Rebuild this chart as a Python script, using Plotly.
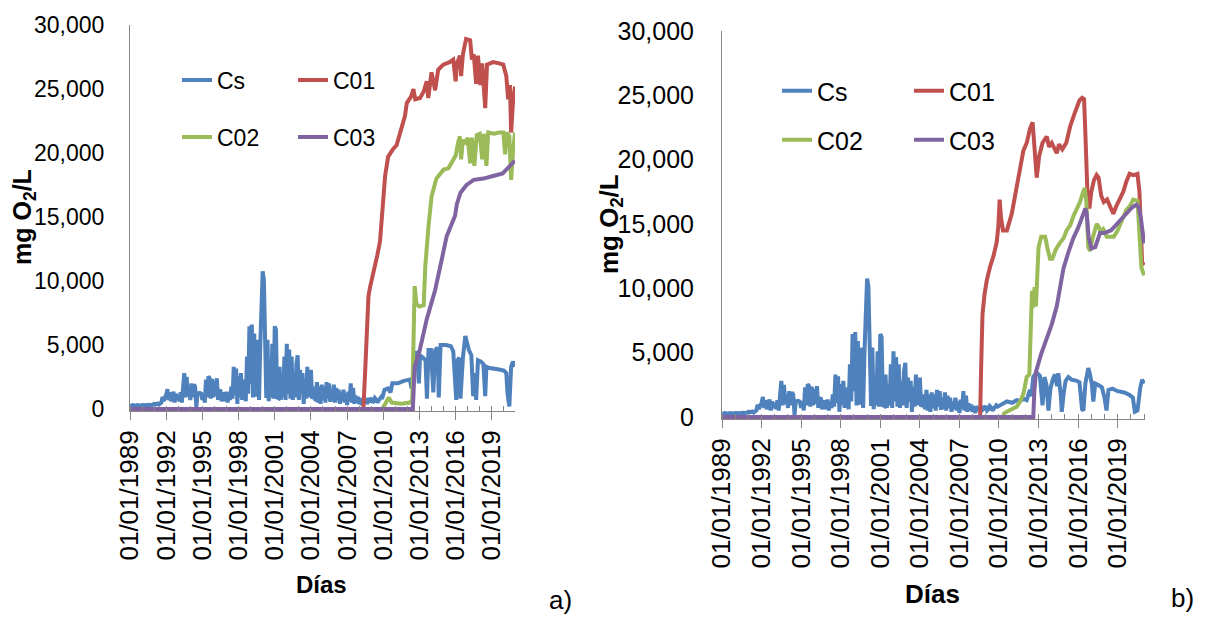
import plotly.graph_objects as go

# ---------------- data (decimal year, mg O2/L) ----------------
# Cs measured record, common to both scenarios up to 2009,
# one reading every 0.1 year starting 1989.0 (ten readings per row = one year)
cs_hist_v = [
    300, 250, 300, 280, 320, 250, 300, 280, 300, 260,          # 1989
    300, 280, 250, 300, 280, 320, 300, 250, 300, 350,          # 1990
    400, 350, 380, 420, 350, 400, 500, 950, 600, 900,          # 1991
    1100, 1550, 700, 1300, 600, 1000, 1350, 500, 1200, 700,    # 1992
    1100, 600, 1300, 500, 2000, 2800, 900, 2500, 1000, 1750,   # 1993
    700, 2000, 900, 1900, 1750, 150, 1300, 1200, 1250, 1200,   # 1994
    700, 1200, 500, 2300, 900, 2550, 2400, 800, 2350, 900,     # 1995
    2200, 1000, 2400, 700, 1400, 1500, 600, 1150, 1300, 600,   # 1996
    1350, 500, 1200, 700, 1750, 800, 3300, 1100, 3150, 400,    # 1997
    2550, 900, 2800, 700, 2300, 1500, 600, 4100, 1200, 6450,   # 1998
    2000, 6600, 900, 5900, 950, 5400, 3550, 700, 5000, 8800,   # 1999
    10750, 10100, 3000, 850, 5400, 600, 3050, 900, 5100, 800,  # 2000
    6450, 6200, 900, 850, 3300, 700, 2550, 900, 4100, 700,     # 2001
    5100, 1200, 4650, 800, 4100, 700, 2800, 900, 3550, 4200,   # 2002
    700, 3050, 1200, 2800, 400, 2350, 800, 3300, 900, 2600,    # 2003
    3050, 800, 950, 1750, 600, 2100, 500, 1750, 400, 1900,     # 2004
    700, 1750, 500, 2100, 800, 2000, 550, 1500, 600, 1900,     # 2005
    500, 1650, 700, 1500, 400, 1200, 600, 1500, 500, 1200,     # 2006
    300, 1350, 600, 2000, 500, 1650, 400, 1050, 500, 950,      # 2007
    400, 850, 300, 850, 500, 700, 400, 850, 600, 700,          # 2008
    850, 500, 600, 850, 750, 500, 600, 700, 900, 800,          # 2009
]
cs_hist_t = [round(1989 + 0.1 * i, 1) for i in range(len(cs_hist_v))]

# ---- scenario a) ----
cs_a_tail_t = [2010.10, 2010.40, 2010.60, 2010.75, 2011.20, 2011.70, 2012.20, 2012.35, 2012.45, 2012.55,
               2012.80, 2012.95, 2013.05, 2013.30, 2013.50, 2013.62, 2013.75, 2013.95, 2014.15, 2014.30,
               2014.50, 2014.60, 2014.75, 2015.20, 2015.60, 2015.80, 2015.95, 2016.05, 2016.15, 2016.30,
               2016.40, 2016.60, 2016.80, 2016.95, 2017.10, 2017.30, 2017.45, 2017.55, 2017.70, 2017.85,
               2018.10, 2018.30, 2018.45, 2018.55, 2018.80, 2019.50, 2020.00, 2020.20, 2020.30, 2020.45,
               2020.60, 2020.75, 2020.92]
cs_a_tail_v = [1500, 1600, 1300, 2000, 2000, 2200, 2300, 1600, 2000, 4400,
               4400, 2000, 4200, 4000, 3800, 800, 4600, 4600, 1300, 4600,
               4800, 900, 5000, 5000, 4900, 4500, 2000, 700, 3800, 4000,
               800, 4000, 5700, 5000, 4600, 4200, 1000, 2800, 700, 3800,
               3700, 3500, 1000, 3300, 3200, 3100, 3000, 2800, 1200, 200,
               3300, 3700, 3300]

c01_a_t = [1989.0, 2008.35, 2008.50, 2008.63, 2008.77, 2008.90, 2009.18, 2009.50, 2009.73, 2009.90,
           2010.00, 2010.15, 2010.40, 2010.80, 2011.10, 2011.40, 2011.80, 2011.95, 2012.10, 2012.30,
           2012.50, 2012.65, 2013.05, 2013.35, 2013.60, 2013.73, 2014.00, 2014.15, 2014.30, 2014.55,
           2014.97, 2015.50, 2015.80, 2016.00, 2016.10, 2016.36, 2016.45, 2016.60, 2016.86, 2017.20,
           2017.35, 2017.50, 2017.70, 2017.85, 2018.05, 2018.20, 2018.45, 2018.60, 2019.10, 2019.60,
           2019.95, 2020.20, 2020.35, 2020.50, 2020.60, 2020.75, 2020.92]
c01_a_v = [0, 0, 3000, 7000, 8800, 9500, 10600, 12000, 13100, 15500,
           16800, 18200, 19700, 20300, 20600, 21700, 22900, 23900, 24100, 24400,
           25000, 24200, 24300, 24800, 25600, 24300, 26300, 25500, 24900, 26500,
           26900, 27100, 27300, 25600, 27000, 27600, 26000, 27700, 28900, 28800,
           27300, 27700, 25400, 27600, 25300, 27000, 23500, 26900, 27100, 27000,
           26900, 26000, 24200, 25300, 21600, 24000, 25200]

c02_a_t = [1989.0, 2009.90, 2010.10, 2010.45, 2010.70, 2011.50, 2012.20, 2012.40, 2012.50, 2012.60,
           2012.75, 2013.00, 2013.35, 2013.48, 2013.75, 2014.00, 2014.40, 2014.70, 2015.00, 2015.40,
           2015.80, 2016.00, 2016.20, 2016.35, 2016.45, 2016.60, 2016.85, 2017.00, 2017.20, 2017.35,
           2017.55, 2017.75, 2018.00, 2018.20, 2018.35, 2018.55, 2018.70, 2019.20, 2019.60, 2019.95,
           2020.10, 2020.25, 2020.45, 2020.60, 2020.75, 2020.92]
c02_a_v = [0, 0, 300, 900, 500, 400, 500, 700, 5000, 9600,
           8200, 8000, 8100, 11100, 14300, 16600, 18000, 18300, 18700, 18800,
           19500, 19800, 20800, 21300, 19500, 21000, 20800, 21200, 19200, 21200,
           19000, 21400, 21500, 19500, 21500, 19000, 21600, 21500, 21600, 21600,
           19900, 21600, 21300, 17900, 20000, 21600]

c03_a_t = [1989.0, 2012.45, 2012.60, 2013.00, 2013.60, 2014.30, 2014.85, 2015.26, 2015.95, 2016.10,
           2016.40, 2016.90, 2017.50, 2018.30, 2019.10, 2019.90, 2020.20, 2020.50, 2020.92]
c03_a_v = [0, 0, 3300, 4500, 7000, 9300, 11700, 13500, 15100, 16000,
           16900, 17500, 17900, 18000, 18200, 18400, 18700, 19000, 19400]

# ---- scenario b) ----
cs_b_tail_t = [2010.10, 2010.60, 2011.00, 2011.35, 2011.60, 2011.85, 2012.10, 2012.35, 2012.45, 2012.60,
               2012.73, 2012.90, 2013.10, 2013.30, 2013.45, 2013.60, 2013.75, 2013.90, 2014.10, 2014.25,
               2014.40, 2014.50, 2014.70, 2014.76, 2014.90, 2015.05, 2015.26, 2015.50, 2015.90, 2016.10,
               2016.30, 2016.40, 2016.55, 2016.77, 2016.90, 2017.05, 2017.15, 2017.30, 2017.50, 2017.80,
               2018.00, 2018.15, 2018.30, 2018.60, 2019.00, 2019.50, 2019.90, 2020.15, 2020.30, 2020.50,
               2020.70, 2020.85, 2021.00]
cs_b_tail_v = [900, 1200, 1100, 1300, 1250, 1400, 1300, 2100, 1600, 3100,
               3300, 3400, 3200, 900, 3100, 2500, 500, 2200, 3000, 3300,
               2400, 3400, 1500, 400, 1800, 2800, 3100, 2900, 2800, 2700,
               600, 500, 2600, 3800, 3300, 2500, 1200, 2600, 2500, 2300,
               1500, 500, 2100, 2200, 2000, 1900, 1700, 1500, 400, 500,
               2200, 2900, 2600]

c01_b_t = [1989.0, 2008.57, 2008.65, 2008.75, 2008.90, 2009.07, 2009.33, 2009.58, 2009.83, 2009.95,
           2010.05, 2010.15, 2010.30, 2010.60, 2010.97, 2011.30, 2011.60, 2011.85, 2012.10, 2012.35,
           2012.55, 2012.70, 2012.86, 2013.05, 2013.30, 2013.62, 2013.80, 2014.00, 2014.20, 2014.38,
           2014.55, 2014.80, 2015.10, 2015.40, 2015.70, 2015.90, 2016.10, 2016.30, 2016.45, 2016.55,
           2016.70, 2016.85, 2017.00, 2017.20, 2017.40, 2017.55, 2017.75, 2017.95, 2018.20, 2018.45,
           2018.67, 2018.90, 2019.17, 2019.42, 2019.66, 2019.90, 2020.20, 2020.50, 2020.65, 2020.75,
           2020.85, 2021.00]
c01_b_v = [0, 0, 4000, 8000, 9500, 10600, 11700, 12500, 13600, 14800,
           16900, 15500, 14500, 14500, 15800, 17800, 19200, 20700, 21300, 22400,
           22900, 21000, 18600, 20300, 21300, 21800, 21000, 21300, 20800, 20500,
           21200, 20800, 21300, 22600, 23500, 24100, 24600, 24800, 24700, 22000,
           17600, 16200, 17500, 18400, 18800, 18600, 17200, 16700, 16900, 16300,
           15800, 16400, 17000, 17500, 18300, 18900, 18800, 18900, 17500, 14000,
           12000, 11800]

c02_b_t = [1989.0, 2010.30, 2010.40, 2010.80, 2011.35, 2011.60, 2011.85, 2012.10, 2012.30, 2012.40,
           2012.50, 2012.60, 2012.70, 2012.80, 2012.90, 2013.00, 2013.20, 2013.50, 2013.70, 2013.87,
           2014.05, 2014.30, 2014.60, 2014.90, 2015.13, 2015.40, 2015.64, 2015.90, 2016.14, 2016.35,
           2016.50, 2016.62, 2016.77, 2016.90, 2017.10, 2017.40, 2017.55, 2017.70, 2017.90, 2018.17,
           2018.40, 2018.70, 2019.00, 2019.30, 2019.66, 2019.93, 2020.18, 2020.50, 2020.65, 2020.80,
           2021.00]
c02_b_v = [0, 0, 300, 500, 800, 1200, 1800, 3100, 3300, 6500,
           9800, 8500, 10100, 8600, 11000, 13200, 14000, 14000, 13000, 12300,
           12300, 13000, 13500, 13900, 14500, 14900, 15600, 16200, 16700, 17400,
           17800, 16800, 13200, 12900, 13900, 15000, 14800, 14400, 14600, 14000,
           14000, 14000, 14500, 15200, 16100, 16400, 16900, 16800, 14500, 11600,
           11000]

c03_b_t = [1989.0, 2012.60, 2012.68, 2012.80, 2013.20, 2013.62, 2014.00, 2014.38, 2014.60, 2014.88,
           2015.26, 2015.64, 2016.00, 2016.30, 2016.55, 2016.65, 2016.80, 2017.00, 2017.30, 2017.66,
           2018.00, 2018.50, 2019.17, 2019.66, 2020.10, 2020.44, 2020.60, 2020.75, 2020.90, 2021.00]
c03_b_v = [0, 0, 2000, 3500, 4900, 6000, 7200, 8600, 9900, 11500,
           12800, 13900, 14700, 15500, 16200, 15800, 14000, 13100, 13200, 14300,
           14300, 14500, 15300, 15800, 16300, 16500, 16300, 15500, 13800, 13500]

series_names = ["Cs", "C01", "C02", "C03"]
tick_years = [1989, 1992, 1995, 1998, 2001, 2004, 2007, 2010, 2013, 2016, 2019]
tick_labels = ["01/01/%d" % y for y in tick_years]
y_ticks = [0, 5000, 10000, 15000, 20000, 25000, 30000]

# ---------------- styling ----------------
COLORS = ["#4F81BD", "#C0504D", "#9BBB59", "#8064A2"]
FONT = "Liberation Sans, Arial, sans-serif"
AXIS_GREY = "#868686"
LINE_W = 4.0

panels = [
    dict(t=[cs_hist_t + cs_a_tail_t, c01_a_t, c02_a_t, c03_a_t],
         v=[cs_hist_v + cs_a_tail_v, c01_a_v, c02_a_v, c03_a_v],
         legends=["legend", "legend", "legend2", "legend2"]),
    dict(t=[cs_hist_t + cs_b_tail_t, c01_b_t, c02_b_t, c03_b_t],
         v=[cs_hist_v + cs_b_tail_v, c01_b_v, c02_b_v, c03_b_v],
         legends=["legend3", "legend3", "legend4", "legend4"]),
]

fig = go.Figure()
for p, panel in enumerate(panels):
    xa = "x" if p == 0 else "x2"
    ya = "y" if p == 0 else "y2"
    for k in range(4):
        fig.add_trace(go.Scatter(
            x=panel["t"][k], y=panel["v"][k], name=series_names[k],
            mode="lines", line=dict(color=COLORS[k], width=LINE_W),
            xaxis=xa, yaxis=ya, legend=panel["legends"][k],
            hoverinfo="skip"))

H = 619.0
W = 1207.0


def xaxis_style(domain, rng, font_size, standoff, anchor):
    return dict(domain=domain, range=rng, anchor=anchor, automargin=False,
                tickmode="array", tickvals=tick_years,
                ticktext=tick_labels, tickangle=-90,
                tickfont=dict(family=FONT, size=font_size, color="#000000"),
                ticks="outside", ticklen=8, tickcolor=AXIS_GREY, tickwidth=1,
                minor=dict(tickmode="linear", tick0=1989, dtick=1, ticks="inside",
                           ticklen=5, tickcolor=AXIS_GREY, tickwidth=1),
                ticklabelstandoff=standoff,
                showline=True, linecolor=AXIS_GREY, linewidth=1,
                showgrid=False, zeroline=False, fixedrange=True)


def yaxis_style(domain, font_size, standoff, anchor):
    return dict(domain=domain, range=[-160, 30000], anchor=anchor, automargin=False,
                tickmode="array", tickvals=y_ticks,
                tickformat=",d", ticks="",
                tickfont=dict(family=FONT, size=font_size, color="#000000"),
                ticklabelstandoff=standoff,
                showline=True, linecolor=AXIS_GREY, linewidth=1,
                showgrid=False, zeroline=False, fixedrange=True)


def legend_style(x_px, y_px, font_size, entry_w):
    return dict(orientation="h", x=x_px / W, y=1 - y_px / H, xanchor="left",
                yanchor="middle", entrywidth=entry_w, entrywidthmode="pixels",
                font=dict(family=FONT, size=font_size, color="#000000"),
                bgcolor="rgba(0,0,0,0)", borderwidth=0, tracegroupgap=0,
                itemclick=False, itemdoubleclick=False)


def note(text, x_px, y_px, size, bold=False, angle=0, yanchor="middle"):
    return dict(text="<b>%s</b>" % text if bold else text,
                x=x_px / W, y=1 - y_px / H, xref="paper", yref="paper",
                showarrow=False, textangle=angle,
                font=dict(family=FONT, size=size, color="#000000"),
                xanchor="center", yanchor=yanchor)


fig.update_layout(
    width=1207, height=619,
    margin=dict(l=0, r=0, t=0, b=0, autoexpand=False),
    paper_bgcolor="white", plot_bgcolor="white",
    showlegend=True,
    xaxis=xaxis_style([130 / W, 515 / W], [1989, 2020.92], 26, 0, "y"),
    yaxis=yaxis_style([1 - 411 / H, 1 - 25 / H], 23, 20, "x"),
    xaxis2=xaxis_style([722 / W, 1145 / W], [1989, 2021.07], 26, 0, "y2"),
    yaxis2=yaxis_style([1 - 419 / H, 1 - 31 / H], 25, 22, "x2"),
    legend=legend_style(177, 80, 23, 71),
    legend2=legend_style(177, 137, 23, 71),
    legend3=legend_style(777, 91, 25, 87),
    legend4=legend_style(777, 140, 25, 87),
    annotations=[
        note("Días", 321.7, 584, 24, bold=True),
        note("Días", 932.5, 594, 26, bold=True),
        note("mg O<sub>2</sub>/L", 24, 217, 25, bold=True, angle=-90),
        note("mg O<sub>2</sub>/L", 610, 224, 26, bold=True, angle=-90),
        note("a)", 560, 617, 26, yanchor="bottom"),
        note("b)", 1182, 615, 26, yanchor="bottom"),
    ],
)

fig.write_html("out.html", config={"displayModeBar": False})
